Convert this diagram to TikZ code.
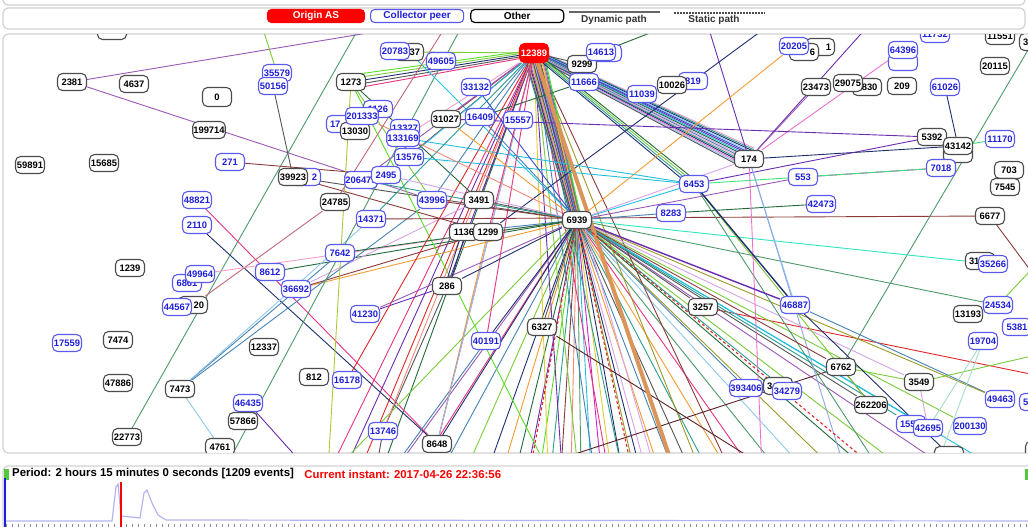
\documentclass[tikz,border=0pt]{standalone}
\usepackage{fontspec}
\setmainfont{Liberation Sans}
\usetikzlibrary{positioning}

\pgfdeclarelayer{panels}
\pgfdeclarelayer{edges}
\pgfsetlayers{panels,edges,main}

% colours of the paths
\definecolor{cgreen}{HTML}{7ACC3A}
\definecolor{csage}{HTML}{4E9A6A}
\definecolor{cnavy}{HTML}{1F2F6E}
\definecolor{cplum}{HTML}{9B59B6}
\definecolor{ctan}{HTML}{D9955A}
\definecolor{caqua}{HTML}{2EE6C0}
\definecolor{crose}{HTML}{E8337F}
\definecolor{cbrown}{HTML}{8B3A3A}
\definecolor{crbrown}{HTML}{C0687A}
\definecolor{csteel}{HTML}{4682B4}
\definecolor{csky}{HTML}{8EC8EE}
\definecolor{colive}{HTML}{9A9A2A}
\definecolor{clilac}{HTML}{D6A4E6}
\definecolor{corange}{HTML}{F39C34}
\definecolor{cteal}{HTML}{2A9D8F}
\definecolor{cpurple}{HTML}{6A2CB0}
\definecolor{clime}{HTML}{55E022}
\definecolor{ccyan}{HTML}{22C0E0}
\definecolor{cmag}{HTML}{CC22CC}
\definecolor{cgold}{HTML}{E0CC30}
\definecolor{csalmon}{HTML}{F08A7A}
\definecolor{cdkgreen}{HTML}{1F6B3A}
\definecolor{cpink}{HTML}{F2A0CC}
\definecolor{cgrey}{HTML}{555555}
\definecolor{cred}{HTML}{E02828}
\definecolor{cdkbrown}{HTML}{5A2228}
\definecolor{cyelgreen}{HTML}{A8CC32}
\definecolor{cblue}{HTML}{3050D0}
\definecolor{cspring}{HTML}{3CE87A}
\definecolor{cpale}{HTML}{A8DCC8}
\definecolor{ccorn}{HTML}{8FA8E8}
\definecolor{chot}{HTML}{F070D0}
% colours of nodes and panels
\definecolor{peertext}{HTML}{1E1ED8}
\definecolor{peerline}{HTML}{5A5AEE}
\definecolor{panelgrey}{HTML}{D2D2D2}
\definecolor{chartline}{HTML}{B4B4F2}
\definecolor{okgreen}{HTML}{55C83C}

% set the styles of the ASes and of the paths
\tikzset{
	asbox/.style={
		rounded corners=5pt,
		minimum width=29pt,
		minimum height=17pt,
		inner sep=0.6pt,
		fill=white,
		line width=1.1pt,
		font=\bfseries\fontsize{9.4}{10}\selectfont
		},
	other/.style={asbox, draw=black!70, text=black},
	peer/.style={asbox, draw=peerline, text=peertext},
	originas/.style={asbox, draw=red, fill=red, text=white, minimum height=19pt},
	dynamic/.style={line width=0.9pt},
	static/.style={cred, line width=1.1pt, dash pattern=on 3pt off 2.5pt},
	panel/.style={draw=panelgrey, line width=1.2pt, rounded corners=5pt, fill=white},
	legtext/.style={font=\bfseries\fontsize{10}{11}\selectfont}
}

\begin{document}
\begin{tikzpicture}[x=1pt,y=-1pt]
	\useasboundingbox (0,0) rectangle (1028,527);

	% panels
	\begin{pgfonlayer}{panels}
		\draw[panel] (3,-30) rectangle (1025,5);
		\draw[panel] (3,8) rectangle (1025,29);
		\draw[panel] (3,34) rectangle (1045,453);
		\draw[panel] (3,466) rectangle (1045,560);
	\end{pgfonlayer}

	% legend
	\node[originas, legtext, minimum width=97pt, minimum height=13pt, rounded corners=4pt] (lorig) at (316,16) {Origin AS};
	\node[peer, legtext, minimum width=93pt, minimum height=13pt, rounded corners=4pt, right=5pt of lorig] (lpeer) {Collector peer};
	\node[other, legtext, minimum width=93pt, minimum height=13pt, rounded corners=4pt, draw=black, line width=1.2pt, right=6pt of lpeer] (lother) {Other};
	\coordinate (ldynA) at (569,12);
	\coordinate (ldynB) at (660,12);
	\draw[line width=1.5pt, black!60] (ldynA) -- (ldynB);
	\node[legtext, text=black!80, inner sep=0] (ldyn) at (614,20) {Dynamic path};
	\coordinate (lstaA) at (674,13);
	\coordinate (lstaB) at (765,13);
	\draw[line width=1.2pt, black!70, dash pattern=on 1.5pt off 1.5pt] (lstaA) -- (lstaB);
	\node[legtext, text=black!80, inner sep=0] (lsta) at (714,20) {Static path};

	% ASes
	\begin{scope}
		\clip (4,35) rectangle (1028,452);
		% left part
		\node[other] (ntop) at (112,31) {};
		\node[other] (n2381) at (72,82) {2381};
		\node[other] (n4637) at (134,84) {4637};
		\node[other, minimum height=19pt] (n0) at (217,97) {0};
		\node[other] (n199714) at (209,130) {199714};
		\node[other] (n59891) at (30,165) {59891};
		\node[other] (n15685) at (104,163) {15685};
		\node[peer] (n35579) at (277,73) {35579};
		\node[peer] (n50156) at (273,86) {50156};
		\node[peer] (n271) at (230,162) {271};
		\node[peer] (n39923b) at (306,177) {\makebox[22pt][r]{2}};
		\node[other] (n39923) at (293,177) {39923};
		\node[peer] (n48821) at (197,200) {48821};
		\node[peer] (n2110) at (197,225) {2110};
		\node[other] (n24785) at (335,202) {24785};
		\node[other] (n1239) at (130,268) {1239};
		\node[peer] (n7642) at (340,253) {7642};
		\node[peer] (n8612) at (270,272) {8612};
		\node[peer] (n36692) at (296,289) {36692};
		\node[peer] (n6861) at (187,283) {6861};
		\node[peer] (n49964) at (200,274) {49964};
		\node[other] (n20) at (193,305) {\makebox[22pt][r]{20}};
		\node[peer] (n44567) at (177,307) {44567};
		\node[peer] (n17559) at (67,343) {17559};
		\node[other] (n7474) at (118,340) {7474};
		\node[other] (n12337) at (264,347) {12337};
		\node[other] (n47886) at (118,383) {47886};
		\node[other] (n7473) at (180,389) {7473};
		\node[other] (n812) at (314,377) {812};
		\node[peer] (n16178) at (347,380) {16178};
		\node[peer] (n46435) at (248,403) {46435};
		\node[other] (n57866) at (243,421) {57866};
		\node[other] (n22773) at (127,437) {22773};
		\node[other] (n4761) at (220,447) {4761};
		% middle part
		\node[other] (n1273) at (351,82) {1273};
		\node[other] (n37) at (409,52) {\makebox[22pt][r]{37}};
		\node[peer] (n20783) at (395,51) {20783};
		\node[peer] (n49605) at (441,61) {49605};
		\node[peer] (n33132) at (476,87) {33132};
		\node[peer] (n17x) at (341,124) {\makebox[22pt][l]{17}};
		\node[other] (n13030) at (355,131) {13030};
		\node[peer] (n1126) at (378,109) {1126};
		\node[peer] (n201333) at (362,116) {201333};
		\node[other] (n31027) at (446,119) {31027};
		\node[peer] (n16409) at (480,117) {16409};
		\node[peer] (n15557) at (518,120) {15557};
		\node[peer] (n13327) at (405,128) {13327};
		\node[peer] (n133169) at (403,138) {133169};
		\node[peer] (n13576) at (409,157) {13576};
		\node[peer] (n206479) at (361,180) {206479};
		\node[peer] (n2495) at (386,175) {2495};
		\node[peer] (n43996) at (432,200) {43996};
		\node[other] (n3491) at (479,200) {3491};
		\node[peer] (n14371) at (371,219) {14371};
		\node[other] (n1136) at (464,232) {1136};
		\node[other] (n1299) at (488,232) {1299};
		\node[other] (n286) at (447,286) {286};
		\node[peer] (n41230) at (365,314) {41230};
		\node[peer] (n40191) at (486,341) {40191};
		\node[other] (n6327) at (542,327) {6327};
		\node[peer] (n13746) at (383,431) {13746};
		\node[other] (n8648) at (437,444) {8648};
		\node[originas] (n12389) at (534,53) {12389};
		\node[other] (n6939) at (577,220) {6939};
		% right part
		\node[other] (n9299) at (582,64) {9299};
		\node[peer] (n11666) at (584,82) {11666};
		\node[peer] (n14613b) at (607,53) {};
		\node[peer] (n14613) at (601,52) {14613};
		\node[peer] (n11039) at (642,94) {11039};
		\node[peer] (n819) at (693,81) {819};
		\node[other] (n10026) at (672,85) {10026};
		\node[other] (n20205c) at (820,47) {\makebox[22pt][r]{1}};
		\node[other] (n20205b) at (804,52) {\makebox[22pt][r]{6}};
		\node[peer] (n20205) at (794,46) {20205};
		\node[peer] (n64396b) at (903,62) {};
		\node[peer] (n64396) at (903,50) {64396};
		\node[peer] (n11732) at (935,34) {11732};
		\node[other] (n11551) at (1000,36) {11551};
		\node[other] (n3x) at (1034,42) {\makebox[22pt][l]{3}};
		\node[other] (n20115) at (995,66) {20115};
		\node[other] (n23473) at (816,87) {23473};
		\node[other] (n5830) at (867,87) {5830};
		\node[other] (n29075) at (848,83) {29075};
		\node[other] (n209) at (902,86) {209};
		\node[peer] (n61026) at (945,87) {61026};
		\node[other] (n5392) at (932,137) {5392};
		\node[other] (n43142b) at (958,154) {};
		\node[other] (n43142) at (958,146) {43142};
		\node[peer] (n11170) at (1000,139) {11170};
		\node[other] (n174) at (749,159) {174};
		\node[peer] (n6453) at (694,184) {6453};
		\node[peer] (n553) at (803,177) {553};
		\node[peer] (n7018) at (941,168) {7018};
		\node[other] (n703) at (1009,170) {703};
		\node[other] (n7545) at (1005,187) {7545};
		\node[peer] (n42473) at (821,204) {42473};
		\node[peer] (n8283) at (671,213) {8283};
		\node[other] (n6677) at (990,216) {6677};
		\node[other] (n31x) at (980,261) {\makebox[22pt][l]{31}};
		\node[peer] (n35266) at (993,264) {35266};
		\node[peer] (n24534) at (998,305) {24534};
		\node[other] (n3257) at (703,307) {3257};
		\node[peer] (n46887) at (795,305) {46887};
		\node[other] (n13193) at (968,314) {13193};
		\node[peer] (n5381) at (1017,327) {5381};
		\node[peer] (n19704) at (983,341) {19704};
		\node[other] (n6762) at (841,367) {6762};
		\node[other] (n3549) at (919,382) {3549};
		\node[peer] (n393406) at (746,388) {393406};
		\node[other] (n34x) at (778,386) {\makebox[22pt][l]{3}};
		\node[peer] (n34279) at (787,391) {34279};
		\node[peer] (n49463) at (1000,399) {49463};
		\node[peer] (n5x) at (1034,402) {\makebox[22pt][l]{5}};
		\node[other] (n262206) at (871,405) {262206};
		\node[peer] (n155) at (911,424) {\makebox[22pt][l]{155}};
		\node[peer] (n42695) at (928,428) {42695};
		\node[peer] (n200130) at (970,426) {200130};
		\node[other] (nbot) at (949,455) {};
		\node[other] (nbotr) at (1040,450) {};
	\end{scope}

	% paths
	\begin{pgfonlayer}{edges}
	\begin{scope}
		\clip (4,35) rectangle (1028,452);

		% free ends beyond the panel
		\coordinate (tA) at (410,26);
		\coordinate (tB) at (262,26);
		\coordinate (tC) at (360,26);
		\coordinate (tD) at (462,26);
		\coordinate (tE) at (1041,28);
		\coordinate (tF) at (868,26);
		\coordinate (tG) at (708,26);
		\coordinate (tH) at (768,26);
		\coordinate (tI) at (668,26);
		\coordinate (tJ) at (446,26);
		\coordinate (bA) at (308,470);
		\coordinate (bB) at (224,470);
		\coordinate (bC) at (328,470);
		\coordinate (bD) at (548,470);
		\coordinate (bE) at (335,470);
		\coordinate (bF) at (392,470);
		\coordinate (bG) at (376,470);
		\coordinate (bH) at (770,470);
		\coordinate (bI) at (526,470);
		\coordinate (bJ) at (935,470);
		\coordinate (bK) at (965,470);
		\coordinate (bL) at (880,470);
		\coordinate (bM) at (762,470);
		\coordinate (bN) at (845,470);
		\coordinate (rA) at (1045,377);
		\coordinate (rB) at (1045,290);
		\coordinate (rC) at (1045,255);
		\coordinate (rD) at (1045,353);

		% fan of 6939 towards the lower border
		\foreach \x/\c in {395/cplum, 418/crose, 442/csteel, 466/cgreen, 488/cnavy, 503/corange,
			516/cdkgreen, 528/cpurple, 540/clime, 551/cteal, 561/cbrown, 571/csalmon, 581/csage,
			591/ccyan, 601/cmag, 611/cgold, 622/cnavy, 634/colive, 646/clilac, 659/corange,
			673/csteel, 690/cgrey, 708/cteal, 728/corange, 752/crose, 778/csage, 805/csky,
			835/colive, 868/cdkgreen, 905/cgreen, 950/cplum, 1000/ccyan}
		{
			\coordinate (f\x) at (\x,470);
			\draw[dynamic,\c] (n6939.center) -- (f\x);
		}

		% fan of 12389 towards the lower border
		\foreach \x/\c in {330/crose, 345/cpurple, 360/cred, 382/cdkgreen, 548/cgold, 562/cpurple,
			578/cgreen, 594/csteel, 608/crose, 622/cteal, 640/cnavy, 655/clilac, 700/colive, 730/cbrown}
		{
			\coordinate (g\x) at (\x,470);
			\draw[dynamic,\c] (n12389.center) -- (g\x);
		}

		% bundle 12389 -- 6939
		\foreach \o/\c in {-10/cteal,-9/cpurple,-8/cgreen,-7/cnavy,-6/crose,-5/csky,-4/corange,
			-3/cdkgreen,-2/clilac,-1/cblue,0/cbrown,1/ccyan,2/cmag,3/csage,4/cgrey,5/cgold,
			6/csalmon,7/cplum,8/cteal,9/clime}
			\draw[dynamic,\c] ([xshift=\o*1.1pt]n12389.center) -- ([xshift=\o*0.5pt]n6939.center);

		% bundle 12389 -- 174
		\foreach \o/\c in {-8/cpink,-7/cteal,-6/cnavy,-5/csky,-4/cblue,-3/cpurple,-2/ccyan,
			-1/cdkgreen,0/clilac,1/csteel,2/cpink,3/cteal,4/cnavy,5/chot,6/csky,7/cgrey}
			\draw[dynamic,\c] ([shift={(-0.44*\o*0.5pt,-0.9*\o*0.5pt)}]n12389.center)
				-- ([shift={(-0.44*\o*1.5pt,-0.9*\o*1.5pt)}]n174.center);

		% bundle 12389 -- 1273
		\foreach \o/\c in {2/clime,1/cgreen,0/cnavy,-1/cgrey,-2/crose}
			\draw[dynamic,\c] ([yshift=\o*1.5pt]n12389.center) -- ([yshift=\o*3.5pt]n1273.center);

		% bundle 12389 -- 6453
		\foreach \o/\c in {-3/cnavy,-1/cteal,1/cgreen,3/cdkgreen}
			\draw[dynamic,\c] ([xshift=\o*1pt]n12389.center) -- ([xshift=\o*2pt]n6453.center);

		% single paths
		\foreach \a/\b/\c in {
			n2381/tA/cplum, n2381/n43996/cplum, tB/n35579/cgreen, tC/n22773/csage,
			n50156/n39923/cgrey, n271/n2495/cbrown, n39923/n1299/cbrown, n39923/n6939/cgrey,
			n48821/n8648/crose, n2110/n8648/cnavy, n24785/n20/crbrown, n49964/n6939/cpink,
			n8612/n6939/cdkgreen, n36692/n6939/corange, n36692/n1299/cbrown, n36692/n3491/clilac,
			n7473/n7642/csteel, n7473/n14371/csky, n7473/n43996/csteel, n7473/n4761/csky,
			n46435/bA/cpurple, bB/tD/csage, n1273/bC/cyelgreen, n1273/n43996/cgreen,
			n1273/n3491/cdkgreen, n1273/bD/clime, n13746/n286/cgrey, n286/n41230/cpurple,
			bE/n6939/cgreen, n40191/bF/csteel, n40191/n6939/cnavy, n8648/n6939/cnavy,
			n8648/n1299/corange, n8648/n12389/crose, n8648/n12389/csky, n13746/bG/cgrey,
			n16178/n12389/cred, n6327/bH/cdkbrown, bI/n6762/cdkbrown, n3257/rA/cred,
			n6762/tE/csage, n61026/n43142/cnavy, n174/n43142/cnavy, n6453/n5392/cpurple,
			n64396/n174/chot, tF/n174/cpurple, n23473/n174/cplum, tG/n174/cpurple,
			n20205/n6939/corange, n1299/tH/cnavy, n31027/n5392/cpurple, n13576/n6453/ccyan,
			n133169/n6453/ccyan, n553/n7018/cmag, n6453/n7018/cspring, n43142/n11170/cspring,
			n8283/n42473/cdkgreen, n14371/n6677/cbrown, n6677/rB/cbrown, n6939/n35266/caqua,
			n6939/n24534/csage, n24534/rC/cgreen, n46887/n49463/csteel, n6939/n49463/colive,
			n6762/n3549/cgreen, n6939/n3549/clilac, n6939/n200130/cgreen, n3549/rD/cgreen,
			n3549/n42695/clilac, n19704/n42695/cpale, n19704/bJ/cpale, n6762/n262206/cbrown,
			n46887/bK/cnavy, n6939/n262206/cgrey, n6939/n155/cteal, n6939/n42695/ccyan,
			n6939/n393406/csteel, n6939/n34279/cteal, n6939/n3257/cgrey, n6453/bL/csage,
			n6453/n262206/cgreen, n174/bM/chot, n174/n46887/csky, n174/bN/ccorn,
			n16409/n11666/cdkgreen, n14613/tI/cdkgreen, n37/n12389/cgreen, n37/n6939/ccyan,
			tJ/n24785/crbrown, n33132/n6939/cblue, n12389/n9299/cgrey, n12389/n31027/cbrown,
			n12389/n16409/csteel, n12389/n2495/cbrown, n12389/n43996/csteel, n12389/n3491/cgrey,
			n12389/n1299/crose, n12389/n14371/cteal, n12389/n286/cpurple, n12389/n40191/crose,
			n12389/n13746/csalmon, n12389/n206479/cplum, n12389/n13576/ccyan, n12389/n133169/cpink,
			n6939/n1136/csteel, n6939/n3491/cgrey, n6939/n43996/cbrown, n6939/n206479/cteal,
			n6939/n2495/clilac, n6939/n201333/csalmon, n6939/n31027/corange, n6939/n16409/csteel,
			n6939/n7642/cdkgreen, n6939/n286/cnavy, n6939/n41230/cplum, n6939/n6327/cgrey,
			n6939/n8283/csteel, n6939/n6453/ccyan, n6939/n553/cplum, n6939/n6762/cbrown,
			n6939/n174/clilac}
			\draw[dynamic,\c] (\a) -- (\b);

		% double and thick paths
		\draw[dynamic,cnavy] ([xshift=-2pt]n286.center) -- ([xshift=-2pt]n1136.center);
		\draw[dynamic,cnavy] ([xshift=2pt]n286.center) -- ([xshift=2pt]n1136.center);
		\draw[cnavy, line width=1.4pt] (n6453) -- (n46887);
		\draw[cpurple, line width=1.4pt] (n6939) -- (n46887);
		\coordinate (gtan) at (674,470);
		\draw[ctan, line width=4pt] (n12389.center) -- (gtan);

		% static paths
		\coordinate (sA) at (530,470);
		\coordinate (sB) at (632,470);
		\coordinate (sC) at (880,472);
		\draw[static] (n6939) -- (sA);
		\draw[static] (n6939) -- (sB);
		\draw[static] (n6939) -- (sC);
	\end{scope}
	\end{pgfonlayer}

	% time line
	\fill[okgreen] (4,469) rectangle (9,480);
	\fill[okgreen] (1025,469) rectangle (1028,480);
	\node[anchor=west, inner sep=0, font=\bfseries\fontsize{11.4}{13}\selectfont] (period) at (12,474)
		{Period: 2 hours 15 minutes 0 seconds [1209 events]};
	\node[anchor=west, inner sep=0, font=\bfseries\fontsize{11.4}{13}\selectfont, text=red, right=10pt of period] (instant)
		{Current instant: 2017-04-26 22:36:56};
	\draw[chartline, line width=1.2pt] (6,521) -- (112,521) -- (116,487) -- (118,484) -- (121,516)
		-- (140,518) -- (144,493) -- (147,490) -- (152,503) -- (158,515) -- (166,520) -- (1028,521);
	\foreach \x in {6,12,...,1026}
		\draw[black!45, line width=0.4pt] (\x,524) -- (\x,527);
	\draw[peertext, line width=1.6pt] (5,478) -- (5,527);
	\draw[red, line width=1.6pt] (121,482) -- (121,527);
\end{tikzpicture}
\end{document}
